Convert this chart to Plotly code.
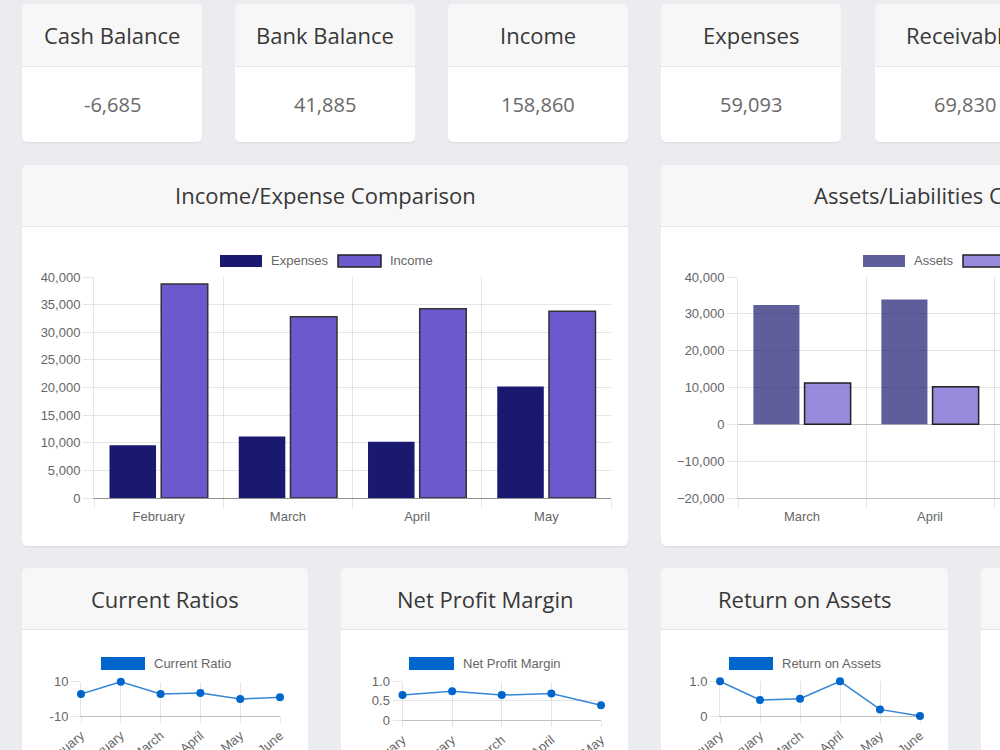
import plotly.graph_objects as go

W, H = 1000, 750


def px(x):
    return x / W


def py(y):
    return 1 - y / H


# ---------------- data ----------------
kpi_titles = ["Cash Balance", "Bank Balance", "Income", "Expenses", "Receivables"]
kpi_values = [-6685, 41885, 158860, 59093, 69830]

ie_months = ["February", "March", "April", "May"]
ie_expenses = [9550, 11150, 10200, 20200]
ie_income = [38750, 32800, 34250, 33800]

al_months = ["March", "April"]
al_assets = [32400, 33900]
al_liabilities = [11200, 10200]

ratio_months = ["January", "February", "March", "April", "May", "June"]
current_ratio = [2.8, 9.8, 2.8, 3.3, -0.2, 0.9]
npm_months = ["January", "February", "March", "April", "May"]
net_profit_margin = [0.65, 0.75, 0.65, 0.69, 0.39]
roa_months = ["January", "February", "March", "April", "May", "June"]
return_on_assets = [1.0, 0.46, 0.5, 1.0, 0.19, 0.0]

card_titles = ["Income/Expense Comparison", "Assets/Liabilities Comparison",
               "Current Ratios", "Net Profit Margin", "Return on Assets"]
legend_labels = ["Expenses", "Income", "Assets", "Liabilities",
                 "Current Ratio", "Net Profit Margin", "Return on Assets"]

# ---------------- styles ----------------
PAGE_BG = "#ebecf0"
HEADER_BG = "#f7f7f7"
DIVIDER = "#e6e6e6"
TITLE_C = "#383838"
VALUE_C = "#696969"
CARD_FONT = "Open Sans, sans-serif"
CHART_FONT = "Liberation Sans, Arial, Helvetica, sans-serif"
TICK_C = "#666666"
GRID = "rgba(0,0,0,0.1)"
ZERO = "rgba(0,0,0,0.25)"
NAVY = "#191970"
SLATE = "#6a5acd"
NAVY_A = "rgba(25,25,112,0.7)"
SLATE_A = "rgba(106,90,205,0.7)"
BLUE = "#0066cc"
TITLE_SIZE = 22
VALUE_SIZE = 20
CHART_SIZE = 13

shapes = []
annotations = []


def rrect_path(x0, y0, x1, y1, r, top=True, bottom=True):
    rt = r if top else 0
    rb = r if bottom else 0
    pts = []
    pts.append(f"M{px(x0 + rt)},{py(y0)}")
    pts.append(f"L{px(x1 - rt)},{py(y0)}")
    if rt:
        pts.append(f"Q{px(x1)},{py(y0)} {px(x1)},{py(y0 + rt)}")
    pts.append(f"L{px(x1)},{py(y1 - rb)}")
    if rb:
        pts.append(f"Q{px(x1)},{py(y1)} {px(x1 - rb)},{py(y1)}")
    pts.append(f"L{px(x0 + rb)},{py(y1)}")
    if rb:
        pts.append(f"Q{px(x0)},{py(y1)} {px(x0)},{py(y1 - rb)}")
    pts.append(f"L{px(x0)},{py(y0 + rt)}")
    if rt:
        pts.append(f"Q{px(x0)},{py(y0)} {px(x0 + rt)},{py(y0)}")
    pts.append("Z")
    return " ".join(pts)


def card(x0, y0, x1, y1, header_bottom, r=6):
    # soft shadow
    shapes.append(dict(type="path", xref="paper", yref="paper", layer="below",
                       path=rrect_path(x0, y0 + 1, x1, y1 + 1.5, r),
                       fillcolor="rgba(0,0,0,0.05)", line=dict(width=0)))
    shapes.append(dict(type="path", xref="paper", yref="paper", layer="below",
                       path=rrect_path(x0, y0, x1, y1, r),
                       fillcolor="#ffffff", line=dict(width=0)))
    shapes.append(dict(type="path", xref="paper", yref="paper", layer="below",
                       path=rrect_path(x0, y0, x1, header_bottom, r, top=True, bottom=False),
                       fillcolor=HEADER_BG, line=dict(width=0)))
    shapes.append(dict(type="line", xref="paper", yref="paper", layer="below",
                       x0=px(x0), x1=px(x1), y0=py(header_bottom + 0.5), y1=py(header_bottom + 0.5),
                       line=dict(color=DIVIDER, width=1)))


def text(x, y, s, size, color, family, xanchor="center"):
    annotations.append(dict(xref="paper", yref="paper", x=px(x), y=py(y), text=s,
                            showarrow=False, xanchor=xanchor, yanchor="middle",
                            font=dict(size=size, color=color, family=family)))


def legend_box(x0, x1, y0, y1, fill, border=None):
    shapes.append(dict(type="rect", xref="paper", yref="paper", layer="above",
                       x0=px(x0), x1=px(x1), y0=py(y1), y1=py(y0),
                       fillcolor=fill,
                       line=dict(color=border if border else fill, width=1.5 if border else 0)))


# ---------------- KPI cards ----------------
kpi_x = [22, 235, 448, 661, 875]
for x0, t, v in zip(kpi_x, kpi_titles, kpi_values):
    card(x0, 4, x0 + 180, 142, 66)
    text(x0 + 90, 35, t, TITLE_SIZE, TITLE_C, CARD_FONT)
    text(x0 + 90, 104, f"{v:,}", VALUE_SIZE, VALUE_C, CARD_FONT)

# ---------------- big cards ----------------
card(22, 165, 628, 546, 226)
card(661, 165, 1267, 546, 226)
text(325, 195, card_titles[0], TITLE_SIZE, TITLE_C, CARD_FONT)
text(964, 195, card_titles[1], TITLE_SIZE, TITLE_C, CARD_FONT)

# ---------------- small cards ----------------
small_x = [(22, 308), (341, 628), (661, 948), (981, 1268)]
for (a, b) in small_x:
    card(a, 568, b, 800, 629)
text(165, 599, card_titles[2], TITLE_SIZE, TITLE_C, CARD_FONT)
text(484.5, 599, card_titles[3], TITLE_SIZE, TITLE_C, CARD_FONT)
text(804.5, 599, card_titles[4], TITLE_SIZE, TITLE_C, CARD_FONT)

# ---------------- legends ----------------
legend_box(220, 262, 255, 267, NAVY)
text(269, 260.5, legend_labels[0], CHART_SIZE, TICK_C, CHART_FONT, "left")
legend_box(338, 381, 255, 267, SLATE, "#222222")
text(388, 260.5, legend_labels[1], CHART_SIZE, TICK_C, CHART_FONT, "left")

legend_box(863, 905, 255, 267, NAVY_A)
text(912, 260.5, legend_labels[2], CHART_SIZE, TICK_C, CHART_FONT, "left")
legend_box(963, 1005, 255, 267, SLATE_A, "#222222")
text(1012, 260.5, legend_labels[3], CHART_SIZE, TICK_C, CHART_FONT, "left")

legend_box(101, 145, 657, 670, BLUE)
text(152, 663.5, legend_labels[4], CHART_SIZE, TICK_C, CHART_FONT, "left")
legend_box(409, 454, 657, 670, BLUE)
text(461, 663.5, legend_labels[5], CHART_SIZE, TICK_C, CHART_FONT, "left")
legend_box(729, 773, 657, 670, BLUE)
text(780, 663.5, legend_labels[6], CHART_SIZE, TICK_C, CHART_FONT, "left")

# ---------------- traces ----------------
fig = go.Figure()

fig.add_trace(go.Bar(x=ie_months, y=ie_expenses, name="Expenses", marker=dict(color=NAVY, line=dict(width=0)),
                     xaxis="x", yaxis="y", showlegend=False))
fig.add_trace(go.Bar(x=ie_months, y=ie_income, name="Income",
                     marker=dict(color=SLATE, line=dict(color="#333333", width=1.5)),
                     xaxis="x", yaxis="y", showlegend=False))

fig.add_trace(go.Bar(x=al_months, y=al_assets, name="Assets", marker=dict(color=NAVY_A, line=dict(width=0)),
                     xaxis="x2", yaxis="y2", showlegend=False))
fig.add_trace(go.Bar(x=al_months, y=al_liabilities, name="Liabilities",
                     marker=dict(color=SLATE_A, line=dict(color="#222222", width=1.5)),
                     xaxis="x2", yaxis="y2", showlegend=False))

line_style = dict(color="rgba(0,102,204,0.8)", width=1.5)
marker_style = dict(color=BLUE, size=8)
fig.add_trace(go.Scatter(x=ratio_months, y=current_ratio, mode="lines+markers", line=line_style,
                         marker=marker_style, xaxis="x3", yaxis="y3", showlegend=False, cliponaxis=False))
fig.add_trace(go.Scatter(x=npm_months, y=net_profit_margin, mode="lines+markers", line=line_style,
                         marker=marker_style, xaxis="x4", yaxis="y4", showlegend=False, cliponaxis=False))
fig.add_trace(go.Scatter(x=roa_months, y=return_on_assets, mode="lines+markers", line=line_style,
                         marker=marker_style, xaxis="x5", yaxis="y5", showlegend=False, cliponaxis=False))

tickfont = dict(family=CHART_FONT, size=CHART_SIZE, color=TICK_C)

bar_x = dict(type="category", tickson="boundaries", showgrid=True, gridcolor=GRID, gridwidth=1,
             ticks="outside", ticklen=9, tickcolor=GRID, tickfont=tickfont, automargin=False,
             showline=True, linecolor=ZERO, linewidth=1, fixedrange=True, ticklabelstandoff=6)
bar_y = dict(showgrid=True, gridcolor=GRID, ticks="outside", ticklen=10, tickcolor=GRID,
             tickfont=tickfont, tickformat=",", showline=True, linecolor=GRID, linewidth=1,
             automargin=False, zeroline=True, zerolinecolor=ZERO, zerolinewidth=1,
             fixedrange=True, ticklabelstandoff=0)

line_x = dict(type="category", showgrid=True, gridcolor=GRID, ticks="outside", ticklen=6,
              tickcolor=GRID, tickfont=tickfont, tickangle=-40, showline=True, linecolor=ZERO,
              linewidth=1, fixedrange=True, automargin=False)
line_y = dict(showgrid=True, gridcolor=GRID, ticks="outside", ticklen=9, tickcolor=GRID,
              tickfont=tickfont, showline=True, linecolor=GRID, linewidth=1, zeroline=False,
              fixedrange=True, automargin=False)

fig.update_layout(
    width=W, height=H, margin=dict(l=0, r=0, t=0, b=0, pad=0, autoexpand=False),
    paper_bgcolor=PAGE_BG, plot_bgcolor="rgba(0,0,0,0)",
    barmode="group", bargap=0.2, bargroupgap=0.1,
    shapes=shapes, annotations=annotations, showlegend=False,
    xaxis=dict(bar_x, domain=[px(94), px(611)], anchor="y", range=[-0.5, 3.5]),
    yaxis=dict(bar_y, domain=[py(498), py(277)], anchor="x", range=[0, 40000], dtick=5000),
    xaxis2=dict(bar_x, domain=[px(738), 1.0], anchor="y2", range=[-0.5, -0.5 + 262 / 128]),
    yaxis2=dict(bar_y, domain=[py(498), py(277)], anchor="x2", range=[-20000, 40000], dtick=10000),
    xaxis3=dict(line_x, domain=[px(81), px(280)], anchor="y3", range=[0, 5]),
    yaxis3=dict(line_y, domain=[py(716), py(681.5)], anchor="x3", range=[-10, 10],
                tickvals=[-10, 10], ticktext=["-10", "10"]),
    xaxis4=dict(line_x, domain=[px(402.5), px(601)], anchor="y4", range=[0, 4]),
    yaxis4=dict(line_y, domain=[py(720.3), py(681.5)], anchor="x4", range=[0, 1],
                tickvals=[0, 0.5, 1], ticktext=["0", "0.5", "1.0"]),
    xaxis5=dict(line_x, domain=[px(720), px(920)], anchor="y5", range=[0, 5]),
    yaxis5=dict(line_y, domain=[py(716), py(681.3)], anchor="x5", range=[0, 1],
                tickvals=[0, 1], ticktext=["0", "1.0"]),
)

fig.write_html("out.html", config={"displayModeBar": False})
